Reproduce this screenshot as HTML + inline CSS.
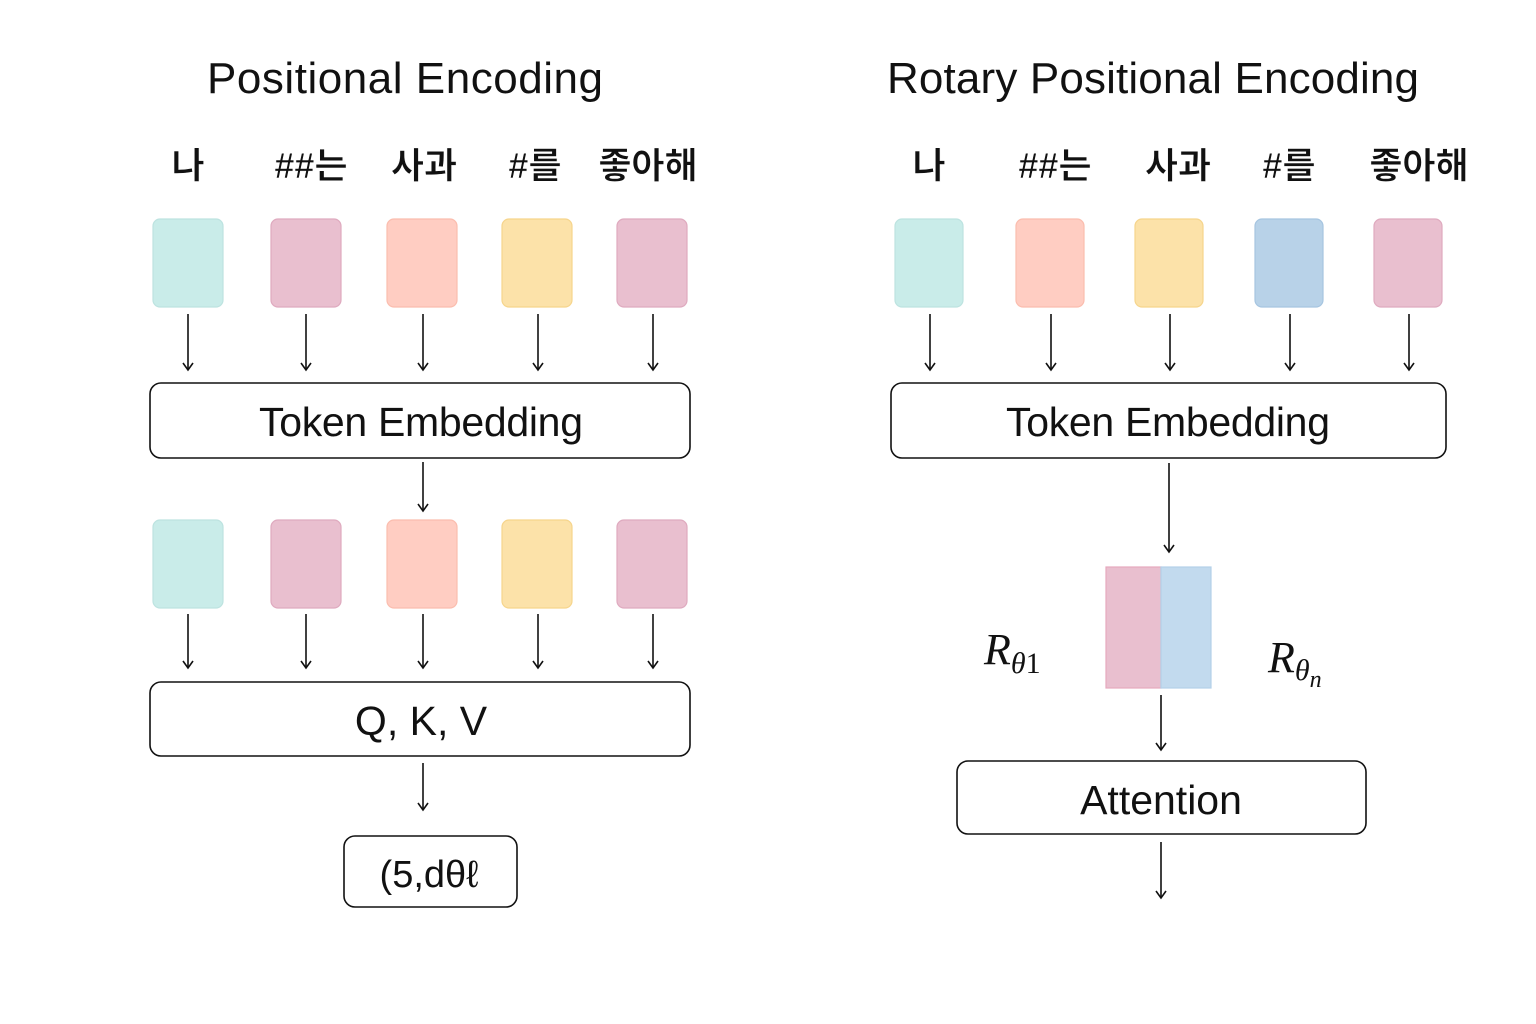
<!DOCTYPE html>
<html><head><meta charset="utf-8"><style>
html,body{margin:0;padding:0;background:#fff;}
svg{display:block;}
.t{font-family:"Liberation Sans","Noto Sans CJK KR",sans-serif;fill:#111;}
</style></head><body>
<svg width="1536" height="1024" viewBox="0 0 1536 1024" xmlns="http://www.w3.org/2000/svg">
<defs>
<marker id="a" markerWidth="12" markerHeight="12" refX="10" refY="6" orient="auto" markerUnits="userSpaceOnUse">
<path d="M3,1 L10,6 L3,11" fill="none" stroke="#111" stroke-width="1.6"/>
</marker>
</defs>
<g class="t">
<text x="405" y="93" font-size="44" text-anchor="middle" textLength="396">Positional Encoding</text>
<text x="1153" y="93" font-size="44" text-anchor="middle" textLength="532">Rotary Positional Encoding</text>
<g font-size="36" text-anchor="middle" font-weight="bold" stroke="#fff" stroke-width="0.6">
<text x="188" y="178">나</text><text x="311" y="178">##는</text><text x="424" y="178">사과</text><text x="535" y="178">#를</text><text x="648" y="178">좋아해</text>
<text x="929" y="178">나</text><text x="1055" y="178">##는</text><text x="1178" y="178">사과</text><text x="1289" y="178">#를</text><text x="1419" y="178">좋아해</text>
</g>
</g>
<g stroke-width="1.2">
<rect x="153" y="219" width="70" height="88" rx="7" fill="#c9ece9" stroke="#bde3e0"/>
<rect x="271" y="219" width="70" height="88" rx="7" fill="#e9bfcf" stroke="#dfaabf"/>
<rect x="387" y="219" width="70" height="88" rx="7" fill="#ffcdc2" stroke="#fbbdae"/>
<rect x="502" y="219" width="70" height="88" rx="7" fill="#fce2a9" stroke="#f6d58c"/>
<rect x="617" y="219" width="70" height="88" rx="7" fill="#e9bfcf" stroke="#dfaabf"/>
<rect x="153" y="520" width="70" height="88" rx="7" fill="#c9ece9" stroke="#bde3e0"/>
<rect x="271" y="520" width="70" height="88" rx="7" fill="#e9bfcf" stroke="#dfaabf"/>
<rect x="387" y="520" width="70" height="88" rx="7" fill="#ffcdc2" stroke="#fbbdae"/>
<rect x="502" y="520" width="70" height="88" rx="7" fill="#fce2a9" stroke="#f6d58c"/>
<rect x="617" y="520" width="70" height="88" rx="7" fill="#e9bfcf" stroke="#dfaabf"/>
<rect x="895" y="219" width="68" height="88" rx="7" fill="#c9ece9" stroke="#bde3e0"/>
<rect x="1016" y="219" width="68" height="88" rx="7" fill="#ffcdc2" stroke="#fbbdae"/>
<rect x="1135" y="219" width="68" height="88" rx="7" fill="#fce2a9" stroke="#f6d58c"/>
<rect x="1255" y="219" width="68" height="88" rx="7" fill="#b8d2e8" stroke="#a6c5e0"/>
<rect x="1374" y="219" width="68" height="88" rx="7" fill="#e9bfcf" stroke="#dfaabf"/>
<rect x="1106" y="567" width="55" height="121" fill="#e9bfcf" stroke="#e6a9bd"/>
<rect x="1161" y="567" width="50" height="121" fill="#c2daee" stroke="#b3d0e8"/>
</g>
<g stroke="#111" stroke-width="1.6" marker-end="url(#a)">
<line x1="188" y1="314" x2="188" y2="370"/><line x1="306" y1="314" x2="306" y2="370"/><line x1="423" y1="314" x2="423" y2="370"/><line x1="538" y1="314" x2="538" y2="370"/><line x1="653" y1="314" x2="653" y2="370"/>
<line x1="423" y1="462" x2="423" y2="511"/>
<line x1="188" y1="614" x2="188" y2="668"/><line x1="306" y1="614" x2="306" y2="668"/><line x1="423" y1="614" x2="423" y2="668"/><line x1="538" y1="614" x2="538" y2="668"/><line x1="653" y1="614" x2="653" y2="668"/>
<line x1="423" y1="763" x2="423" y2="810"/>
<line x1="930" y1="314" x2="930" y2="370"/><line x1="1051" y1="314" x2="1051" y2="370"/><line x1="1170" y1="314" x2="1170" y2="370"/><line x1="1290" y1="314" x2="1290" y2="370"/><line x1="1409" y1="314" x2="1409" y2="370"/>
<line x1="1169" y1="463" x2="1169" y2="552"/>
<line x1="1161" y1="695" x2="1161" y2="750"/>
<line x1="1161" y1="842" x2="1161" y2="898"/>
</g>
<g fill="none" stroke="#111" stroke-width="1.6">
<rect x="150" y="383" width="540" height="75" rx="11"/>
<rect x="150" y="682" width="540" height="74" rx="11"/>
<rect x="344" y="836" width="173" height="71" rx="11"/>
<rect x="891" y="383" width="555" height="75" rx="11"/>
<rect x="957" y="761" width="409" height="73" rx="11"/>
</g>
<g class="t" text-anchor="middle" font-size="41">
<text x="421" y="436" textLength="324">Token Embedding</text>
<text x="421" y="735">Q, K, V</text>
<text x="429" y="887" font-size="38">(5,dθℓ</text>
<text x="1168" y="436" textLength="324">Token Embedding</text>
<text x="1161" y="814">Attention</text>
</g>
<g font-family="Liberation Serif,serif" font-style="italic" fill="#111">
<text x="984" y="664" font-size="44">R<tspan font-size="30" dy="9">θ</tspan><tspan font-style="normal" font-size="30">1</tspan></text>
<text x="1268" y="672" font-size="44">R<tspan font-size="30" dy="8">θ</tspan><tspan font-size="24" dy="7">n</tspan></text>
</g>
</svg>
</body></html>
